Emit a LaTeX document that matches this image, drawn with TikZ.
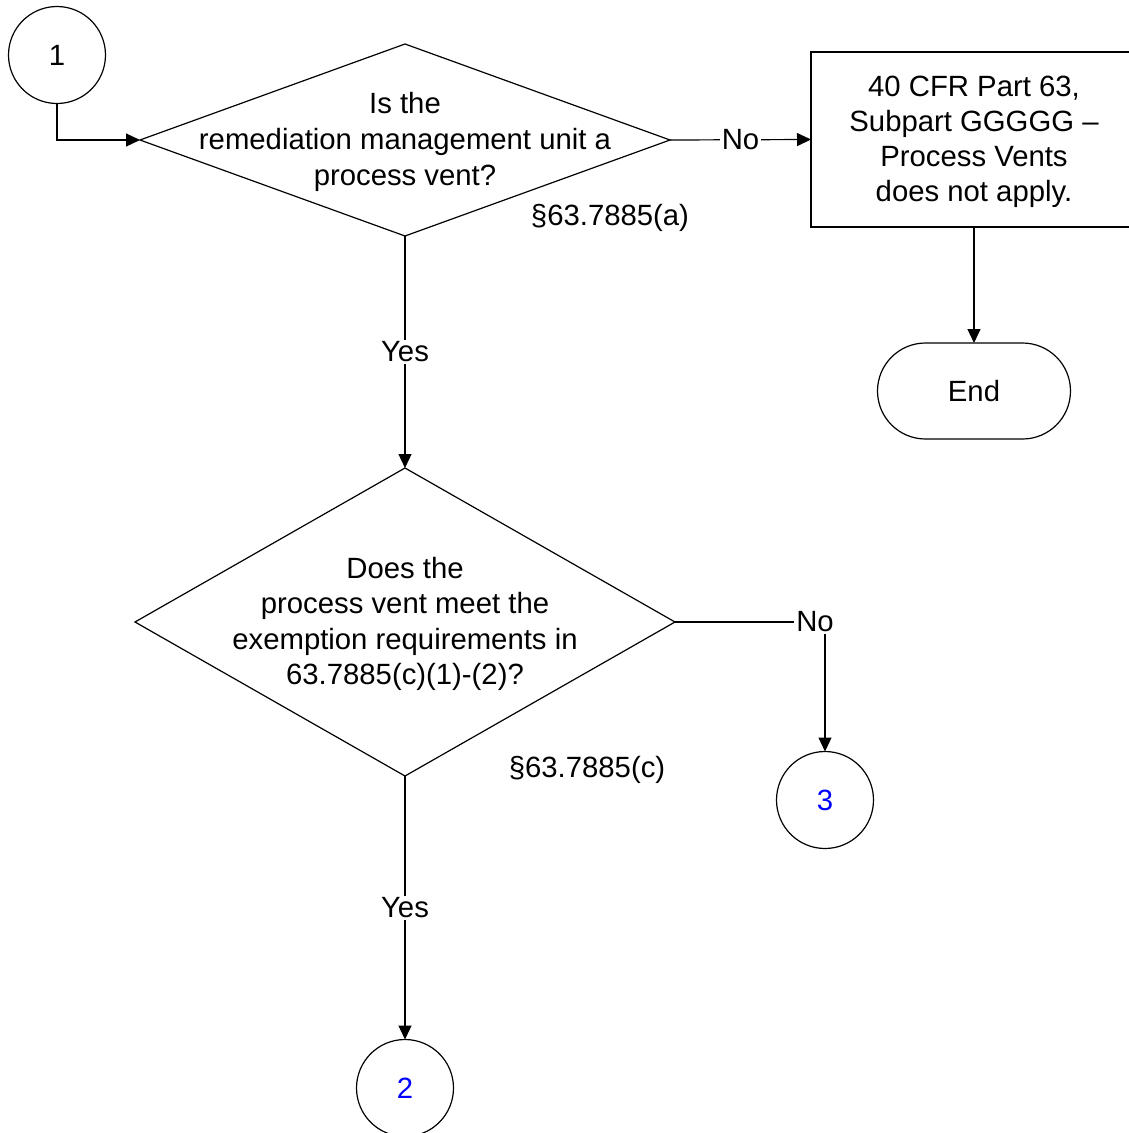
\documentclass[tikz,border=0pt]{standalone}
\usepackage{fontspec}
\setmainfont{Liberation Sans}
\usetikzlibrary{shapes.geometric,arrows.meta}
\begin{document}
\begin{tikzpicture}[x=1pt,y=-1pt,
  every node/.style={font=\fontsize{29.3}{35.5}\selectfont, outer sep=0pt},
  ln/.style={line width=1.2pt},
  arr/.style={ln,-{Triangle[length=14pt,width=13pt]}},
  conn/.style={draw, circle, line width=1.2pt, minimum size=97pt, inner sep=0pt},
  dec/.style={draw, diamond, line width=1.2pt, inner sep=0pt},
  txt/.style={align=center, inner sep=0pt},
  lbl/.style={fill=white, inner sep=2pt},
  bx/.style={draw, rectangle, line width=1.2pt, inner sep=0pt},
  term/.style={draw, rectangle, rounded corners=48pt, line width=1.2pt, minimum width=193pt, minimum height=96pt, inner sep=0pt}
]
\useasboundingbox (0,0) rectangle (1128,1133);

\node[conn] (c1) at (57,55) {1};
\node[dec, minimum width=530pt, minimum height=192pt] (d1) at (405,140) {};
\node[txt, font=\fontsize{29.3}{36}\selectfont] (t1) at (405,142) {Is the\\remediation management unit a\\process vent?};
\node (r1) at (610,218) {\S63.7885(a)};

\node[bx, minimum width=326pt, minimum height=175pt] (box) at (974,139.5) {};
\node[txt, font=\fontsize{29.3}{34.8}\selectfont] (t2) at (974,142) {40 CFR Part 63,\\Subpart GGGGG --\\Process Vents\\does not apply.};

\node[term] (end) at (974,391) {End};

\node[dec, minimum width=540pt, minimum height=308pt] (d2) at (405,622) {};
\node[txt] (t3) at (405,624) {Does the\\process vent meet the\\exemption requirements in\\63.7885(c)(1)-(2)?};
\node (r2) at (587,770) {\S63.7885(c)};

\node[conn, text=blue] (c3) at (825,800) {3};
\node[conn, text=blue] (c2) at (405,1088) {2};

\draw[arr] (c1.south) |- (d1.west);
\draw[arr] (d1.east) -- node[lbl] (n1) {No} (box.west);
\draw[arr] (box.south) -- (end.north);
\draw[arr] (d1.south) -- node[lbl] (y1) {Yes} (d2.north);
\draw[arr] (d2.east) -| (c3.north);
\node[lbl] (n2) at (815,622) {No};
\draw[arr] (d2.south) -- node[lbl] (y2) {Yes} (c2.north);
\end{tikzpicture}
\end{document}
